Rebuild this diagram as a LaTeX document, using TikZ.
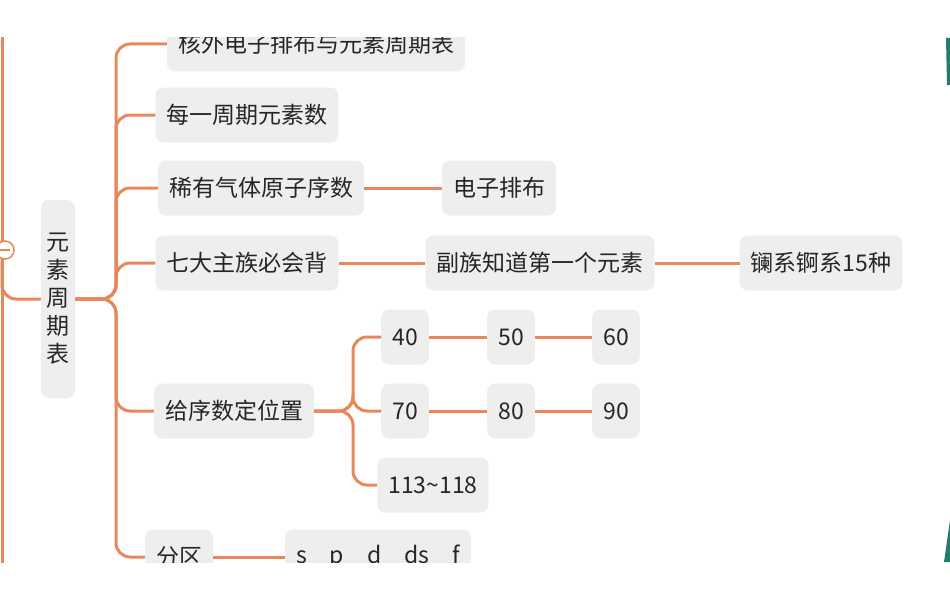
\documentclass[tikz,border=0pt]{standalone}
\usepackage{fontspec}
\setmainfont{Noto Sans CJK SC}
\usetikzlibrary{positioning}
\definecolor{branch}{HTML}{E8875A}
\definecolor{boxgray}{HTML}{EEEEEE}
\definecolor{teal}{HTML}{1F7F6E}
\tikzset{
  topic/.style={fill=boxgray,rounded corners=8pt,inner xsep=11pt,minimum height=55pt,font=\fontsize{23}{26}\selectfont,text=black!85},
  link/.style={draw=branch,line width=3pt,rounded corners=14pt}
}
\begin{document}
\begin{tikzpicture}[x=1pt,y=-1pt]
\useasboundingbox (0,0) rectangle (950,602);
\clip (0,38) rectangle (950,562);
% nodes
\node[topic,text width=26pt,align=center,inner xsep=4pt,minimum height=198pt] (root) at (58,299) {元\\[2pt]素\\[2pt]周\\[2pt]期\\[2pt]表};
\node[topic] (outer) at (316,44) {核外电子排布与元素周期表};
\node[topic] (count) at (247,115) {每一周期元素数};
\node[topic] (noble) at (261,188) {稀有气体原子序数};
\node[topic] (config) at (499,188) {电子排布};
\node[topic] (main) at (247,263) {七大主族必会背};
\node[topic] (sub) at (540,263) {副族知道第一个元素};
\node[topic] (lanth) at (821,263) {镧系锕系15种};
\node[topic] (place) at (234,411) {给序数定位置};
\node[topic] (n40) at (405,337) {40};
\node[topic] (n50) at (511,337) {50};
\node[topic] (n60) at (616,337) {60};
\node[topic] (n70) at (405,411) {70};
\node[topic] (n80) at (511,411) {80};
\node[topic] (n90) at (616,411) {90};
\node[topic] (n113) at (433,485) {113\textasciitilde118};
\node[topic] (zone) at (179,557) {分区};
\node[topic] (spdf) at (378,557) {s\quad p\quad d\quad ds\quad f};
% connectors
\draw[link] (2,0) -- (2,602);
\draw[link] (2,240) |- (root.west);
\draw[branch,line width=1.5pt,fill=white] (5,250) circle (9pt);
\draw[branch,line width=1.5pt] (0,250) -- (10,250);
\foreach \t in {outer,count,noble,main,place,zone}
  \draw[link] (root.east) -- (116,299) |- (\t.west);
\draw[link] (noble) -- (config);
\draw[link] (main) -- (sub);
\draw[link] (sub) -- (lanth);
\foreach \t in {n40,n70,n113}
  \draw[link] (place.east) -- (353,411) |- (\t.west);
\draw[link] (n40) -- (n50);
\draw[link] (n50) -- (n60);
\draw[link] (n70) -- (n80);
\draw[link] (n80) -- (n90);
\draw[link] (zone) -- (spdf);
% right edge
\fill[teal] (946,38) -- (950,38) -- (950,85) -- (947,85) -- cycle;
\fill[teal] (944,562) -- (950,562) -- (950,520) -- cycle;
\end{tikzpicture}
\end{document}
